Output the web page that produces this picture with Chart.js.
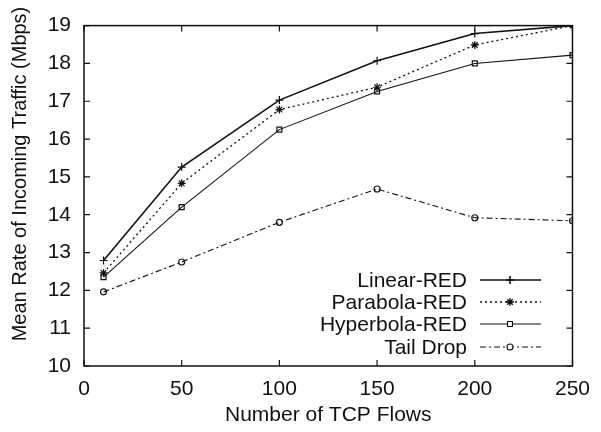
<!DOCTYPE html>
<html>
<head>
<meta charset="utf-8">
<script src="https://cdn.jsdelivr.net/npm/chart.js@4.4.1/dist/chart.umd.min.js"></script>
<style>
  html, body { margin: 0; padding: 0; background: #fff; }
</style>
</head>
<body>
<canvas id="chart" width="601" height="432"></canvas>
<script>
// Data
const flows = [10, 50, 100, 150, 200, 250];
const linearRed = [12.79, 15.26, 17.03, 18.07, 18.79, 19.0];
const parabolaRed = [12.46, 14.83, 16.78, 17.37, 18.49, 19.0];
const hyperbolaRed = [12.35, 14.2, 16.25, 17.26, 18.0, 18.22];
const tailDrop = [11.96, 12.75, 13.8, 14.68, 13.92, 13.84];

const seriesNames = ['Linear-RED', 'Parabola-RED', 'Hyperbola-RED', 'Tail Drop'];
const xTicks = [0, 50, 100, 150, 200, 250];
const yTicks = [10, 11, 12, 13, 14, 15, 16, 17, 18, 19];
const yTitle = 'Mean Rate of Incoming Traffic (Mbps)';

const FONT = "'Liberation Sans', Arial, Helvetica, sans-serif";
Chart.defaults.font.family = FONT;
Chart.defaults.color = '#111';

function pts(values) {
  return flows.map((x, i) => ({ x: x, y: values[i] }));
}

const styles = [
  { dash: [], width: 1.6, point: 'cross', radius: 4 },
  { dash: [2, 3], width: 1.3, point: 'star', radius: 4 },
  { dash: [], width: 1.1, point: 'rect', radius: 3.5 },
  { dash: [6, 3, 2, 3], width: 1.1, point: 'circle', radius: 3 }
];

const datasets = [linearRed, parabolaRed, hyperbolaRed, tailDrop].map((vals, i) => ({
  label: seriesNames[i],
  data: pts(vals),
  borderColor: '#111',
  backgroundColor: 'rgba(0,0,0,0)',
  borderWidth: styles[i].width,
  borderDash: styles[i].dash,
  pointStyle: styles[i].point,
  pointRadius: styles[i].radius,
  pointBorderColor: '#111',
  pointBorderWidth: 1.2,
  pointBackgroundColor: 'rgba(0,0,0,0)',
  tension: 0
}));

// Frame around the plot with inward tick marks on all four sides
const frameTicks = {
  id: 'frameTicks',
  afterDatasetsDraw(chart) {
    const ctx = chart.ctx;
    const a = chart.chartArea;
    const xs = chart.scales.x, ys = chart.scales.y;
    ctx.save();
    ctx.strokeStyle = '#111';
    ctx.lineWidth = 1.5;
    ctx.setLineDash([]);
    ctx.strokeRect(a.left, a.top, a.right - a.left, a.bottom - a.top);
    ctx.lineWidth = 1.2;
    const len = 6;
    ctx.beginPath();
    xTicks.forEach(v => {
      const px = xs.getPixelForValue(v);
      ctx.moveTo(px, a.bottom); ctx.lineTo(px, a.bottom - len);
      ctx.moveTo(px, a.top); ctx.lineTo(px, a.top + len);
    });
    yTicks.forEach(v => {
      const py = ys.getPixelForValue(v);
      ctx.moveTo(a.left, py); ctx.lineTo(a.left + len, py);
      ctx.moveTo(a.right, py); ctx.lineTo(a.right - len, py);
    });
    ctx.stroke();

    // y axis title, placed a bit above the axis centre as in the original
    ctx.save();
    ctx.translate(20, 174);
    ctx.rotate(-Math.PI / 2);
    ctx.font = '20px ' + FONT;
    ctx.fillStyle = '#111';
    ctx.textAlign = 'center';
    ctx.textBaseline = 'middle';
    ctx.fillText(yTitle, 0, 0);
    ctx.restore();
    ctx.restore();
  }
};

// gnuplot-style key: label on the left, line sample with marker on the right
const keyBox = {
  id: 'keyBox',
  afterDraw(chart) {
    const ctx = chart.ctx;
    const textRight = 467, sx0 = 480, sx1 = 541, mx = 510;
    const rows = [280, 302, 324, 347];
    ctx.save();
    ctx.font = '21px ' + FONT;
    ctx.textAlign = 'right';
    ctx.textBaseline = 'middle';
    chart.data.datasets.forEach((ds, i) => {
      const y = rows[i];
      ctx.fillStyle = '#111';
      ctx.fillText(ds.label, textRight, y + 1);
      ctx.strokeStyle = '#111';
      ctx.lineWidth = ds.borderWidth;
      ctx.setLineDash(ds.borderDash);
      ctx.beginPath();
      ctx.moveTo(sx0, y); ctx.lineTo(sx1, y);
      ctx.stroke();
      ctx.setLineDash([]);
      ctx.fillStyle = '#fff';
      Chart.helpers.drawPoint(ctx, {
        pointStyle: ds.pointStyle,
        radius: ds.pointRadius,
        rotation: 0,
        borderWidth: 1.2
      }, mx, y);
    });
    ctx.restore();
  }
};

new Chart(document.getElementById('chart').getContext('2d'), {
  type: 'line',
  data: { datasets: datasets },
  options: {
    responsive: false,
    animation: false,
    layout: { padding: { top: 24, right: 22, bottom: 4, left: 0 } },
    plugins: {
      legend: { display: false },
      tooltip: { enabled: false }
    },
    scales: {
      x: {
        type: 'linear',
        min: 0,
        max: 250,
        afterBuildTicks(scale) { scale.ticks = xTicks.map(v => ({ value: v })); },
        afterFit(scale) { scale.height = 62; },
        grid: { display: false, drawTicks: false },
        border: { display: false },
        ticks: { padding: 11, font: { size: 21 }, color: '#111' },
        title: { display: true, text: 'Number of TCP Flows', font: { size: 21 }, color: '#111', padding: { top: 4, bottom: 0 } }
      },
      y: {
        type: 'linear',
        min: 10,
        max: 19,
        afterBuildTicks(scale) { scale.ticks = yTicks.map(v => ({ value: v })); },
        afterFit(scale) { scale.width = 84; },
        grid: { display: false, drawTicks: false },
        border: { display: false },
        ticks: { padding: 13, font: { size: 21 }, color: '#111' },
        title: { display: false }
      }
    }
  },
  plugins: [frameTicks, keyBox]
});
</script>
</body>
</html>
